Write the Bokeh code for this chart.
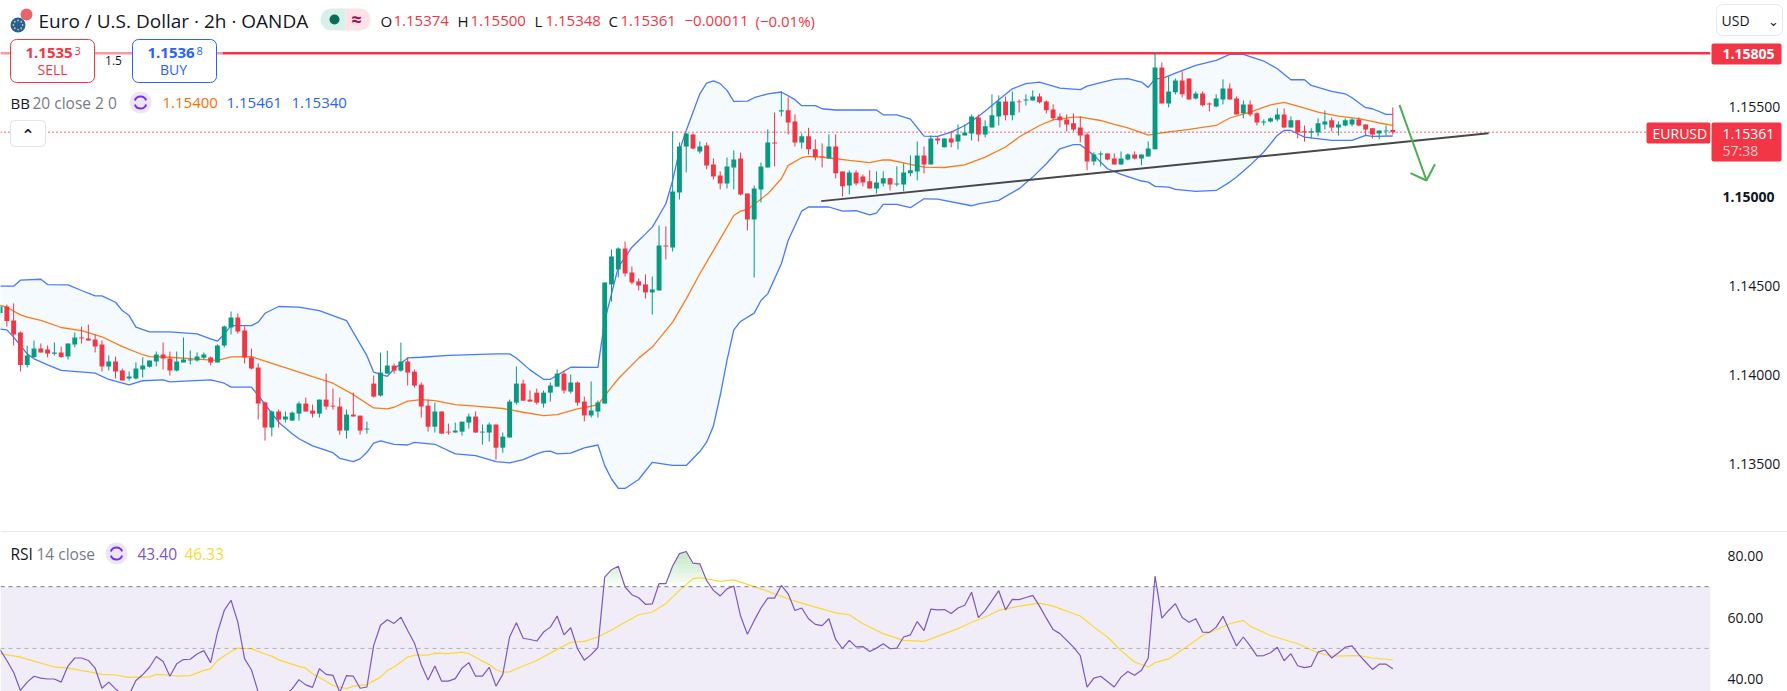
import numpy as np
from bokeh.embed import file_html
from bokeh.resources import INLINE
from bokeh.layouts import column
from bokeh.models import (BoxAnnotation, ColumnDataSource, FixedTicker, Label, LinearAxis,
                          NumeralTickFormatter, Range1d, Span)
from bokeh.plotting import figure

# ---- candles, in 1e-5 price points (2h EUR/USD) ----
opens = [
114345,114382,114304,114236,114053,114099,114146,114141,114116,114124,
114101,114169,114208,114202,114197,114169,114045,114073,114023,113978,
113978,114028,114043,114073,114112,114090,114023,114068,114079,114079,
114094,114096,114068,114163,114264,114320,114247,114096,114039,113843,
113702,113792,113747,113741,113780,113837,113797,113780,113859,113825,
113820,113685,113775,113769,113691,113949,113882,114005,114050,114022,
114073,114016,113943,113825,113707,113792,113679,113674,113679,113730,
113764,113674,113674,113719,113589,113646,113842,113949,113859,113898,
113837,113898,113932,114005,113904,113955,113848,113770,113792,113837,
114506,114590,114708,114573,114523,114506,114461,114472,114725,114714,
115023,115281,115349,115253,115287,115180,115118,115073,115163,115214,
115017,114871,115040,115163,115304,115478,115484,115422,115304,115338,
115265,115225,115214,115281,115141,115062,115135,115113,115085,115045,
115073,115102,115068,115068,115130,115141,115231,115180,115326,115276,
115326,115309,115343,115354,115444,115349,115388,115450,115534,115456,
115534,115540,115540,115562,115534,115489,115450,115433,115411,115388,
115349,115197,115236,115242,115214,115180,115208,115236,115214,115225,
115265,115725,115523,115585,115652,115663,115551,115579,115523,115506,
115545,115607,115551,115467,115517,115467,115416,115422,115433,115461,
115388,115428,115366,115360,115360,115405,115428,115388,115399,115405,
115433,115405,115383,115354,115366,115374]
closes = [
114382,114300,114225,114053,114107,114146,114124,114118,114124,114099,
114174,114208,114202,114191,114157,114045,114073,114017,113966,113989,
114034,114051,114079,114112,114090,114023,114073,114084,114084,114101,
114112,114068,114163,114270,114320,114242,114096,114034,113837,113702,
113792,113747,113764,113786,113837,113792,113780,113859,113820,113820,
113685,113775,113764,113685,113696,113876,114011,114050,114022,114073,
114011,113938,113820,113707,113792,113668,113674,113685,113735,113764,
113674,113679,113719,113589,113651,113848,113949,113853,113848,113842,
113898,113938,114005,113910,113955,113842,113770,113798,113843,114517,
114663,114708,114568,114517,114500,114461,114478,114725,114719,115028,
115281,115354,115270,115281,115174,115113,115073,115169,115208,115011,
114871,115045,115169,115304,115298,115484,115416,115304,115338,115265,
115220,115220,115281,115130,115057,115135,115073,115079,115045,115079,
115102,115068,115073,115135,115147,115231,115180,115326,115315,115326,
115304,115349,115360,115450,115349,115394,115456,115534,115456,115534,
115529,115545,115562,115529,115484,115439,115428,115405,115377,115343,
115197,115236,115242,115208,115180,115214,115236,115214,115236,115270,
115725,115523,115590,115652,115574,115545,115579,115512,115517,115551,
115607,115545,115461,115517,115461,115416,115422,115439,115461,115388,
115428,115360,115360,115366,115411,115422,115388,115405,115428,115433,
115399,115377,115349,115371,115371,115361]
highs = [
114392,114393,114399,114242,114161,114191,114174,114163,114180,114157,
114174,114236,114270,114281,114223,114191,114107,114101,114034,114017,
114068,114096,114079,114129,114180,114129,114129,114208,114135,114124,
114124,114101,114169,114275,114354,114343,114270,114146,114062,113848,
113798,113803,113792,113792,113848,113870,113831,113859,114005,113921,
113870,113803,113898,113769,113735,113994,114123,114134,114061,114179,
114095,114028,113955,113859,113842,113792,113724,113730,113735,113780,
113792,113719,113730,113719,113674,113859,114045,113971,113910,113921,
113910,113955,114028,114022,114000,113960,113876,113961,113854,114517,
114702,114714,114747,114607,114539,114562,114551,114837,114832,115366,
115304,115354,115354,115309,115304,115214,115141,115219,115259,115247,
115017,115062,115191,115377,115472,115590,115557,115461,115354,115386,
115321,115298,115349,115349,115141,115147,115147,115124,115147,115141,
115141,115102,115169,115186,115231,115309,115281,115343,115338,115326,
115366,115405,115405,115461,115461,115428,115574,115568,115562,115590,
115545,115574,115596,115579,115540,115517,115467,115461,115467,115450,
115360,115248,115253,115242,115242,115253,115242,115253,115236,115309,
115810,115753,115675,115663,115703,115663,115590,115590,115529,115574,
115658,115635,115562,115540,115540,115473,115433,115444,115495,115495,
115450,115428,115399,115383,115439,115484,115444,115422,115439,115439,
115444,115405,115383,115371,115399,115500]
lows = [
114339,114270,114163,114017,114039,114092,114124,114096,114107,114094,
114084,114152,114174,114191,114124,114017,114023,113978,113966,113966,
113972,113983,114039,114045,114028,113994,114017,114068,114056,114073,
114084,114051,114068,114152,114225,114230,114062,114028,113747,113629,
113652,113702,113730,113741,113741,113792,113758,113758,113803,113803,
113662,113640,113764,113662,113668,113870,113876,114005,114005,114016,
113938,113927,113758,113679,113674,113668,113662,113674,113657,113696,
113674,113606,113623,113522,113561,113646,113831,113853,113848,113831,
113814,113848,113932,113893,113893,113825,113736,113758,113758,113837,
114410,114545,114551,114506,114472,114427,114337,114472,114646,114691,
114983,115135,115264,115242,115152,115096,115040,115045,115040,115006,
114809,114545,114966,115163,115169,115450,115349,115281,115270,115236,
115203,115163,115214,115102,115000,115012,115062,115057,115045,115017,
115057,115034,115057,115029,115113,115090,115130,115180,115293,115276,
115276,115265,115343,115315,115309,115332,115388,115399,115428,115428,
115472,115512,115540,115523,115467,115428,115388,115366,115366,115304,
115147,115175,115169,115203,115180,115180,115203,115208,115175,115225,
115265,115523,115501,115574,115557,115545,115545,115506,115478,115501,
115517,115545,115461,115439,115450,115399,115399,115416,115422,115383,
115388,115326,115309,115326,115338,115377,115366,115343,115394,115394,
115394,115343,115326,115321,115343,115348]

# ---- Bollinger bands, read at the line's visible vertices ----
upper_i = [0,2,3,6,7,10,12,14,15,17,18,19,20,22,25,29,31,32,33,34,37,38,39,41,44,47,51,52,54,55,57,58,60,62,66,73,75,76,78,80,81,84,88,
           89,90,91,92,93,94,95,96,97,98,99,100,101,103,104,105,106,107,108,110,111,113,115,117,118,120,121,123,129,130,132,134,136,138,140,142,144,145,147,149,151,153,156,159,160,162,
           164,166,168,169,170,171,173,176,179,181,183,186,188,190,192,193,196,198,199,201,202,204,205]
upper_v = [114496,114496,114530,114535,114505,114503,114472,114442,114442,114406,114359,114331,114266,114239,114239,114228,114200,114187,114228,114275,114275,114294,114344,114382,114378,114359,114303,114237,114106,114013,113990,114031,114093,114097,114108,114116,114116,114093,114026,113973,113973,114041,114040,
           114303,114453,114603,114659,114715,114753,114790,114828,114893,114959,115090,115259,115371,115577,115637,115649,115634,115596,115534,115536,115555,115577,115587,115544,115510,115510,115493,115486,115486,115459,115459,115435,115339,115338,115362,115399,115450,115480,115544,115605,115634,115643,115609,115600,115620,115640,
           115658,115662,115643,115613,115662,115662,115693,115737,115765,115798,115798,115761,115718,115656,115656,115624,115590,115577,115555,115499,115493,115461,115461]
lower_i = [0,1,2,3,4,5,7,9,14,16,19,21,24,25,31,33,34,37,38,41,43,44,46,49,50,52,53,54,55,56,58,60,61,64,67,70,73,75,77,79,80,81,82,84,86,88,89,90,91,92,94,96,99,101,103,104,105,106,107,108,109,111,112,113,115,116,118,119,122,124,126,128,129,130,132,134,136,138,143,144,147,150,152,154,156,158,159,161,163,165,168,169,170,172,173,176,179,181,182,184,186,188,189,190,192,196,199,201,202,205]
lower_v = [114255,114251,114210,114163,114116,114088,114054,114023,114008,113972,113942,113965,113970,113959,113970,113951,113929,113929,113882,113732,113667,113639,113599,113561,113529,113511,113526,113563,113614,113627,113608,113604,113619,113608,113554,113544,113511,113503,113522,113554,113567,113569,113554,113558,113588,113604,113488,113413,113361,113360,113410,113506,113489,113489,113567,113620,113710,113882,114079,114251,114298,114345,114416,114453,114622,114753,114918,114941,114941,114918,114920,114897,114907,114956,114956,114937,114987,114985,114948,114959,114978,115044,115109,115184,115268,115291,115291,115231,115156,115124,115087,115081,115057,115053,115040,115029,115034,115081,115109,115175,115250,115343,115371,115371,115334,115315,115315,115343,115338,115340]
middle_i = [0,1,3,4,6,9,12,15,18,21,22,25,30,32,34,37,39,43,46,49,52,55,57,58,60,62,64,67,70,74,77,80,82,85,88,90,91,94,96,99,101,103,104,106,108,109,110,113,115,116,118,119,121,123,125,128,130,131,134,136,139,142,145,148,150,153,155,158,159,162,164,166,169,171,175,179,181,184,187,189,191,194,197,200,203,205]
middle_v = [114388,114378,114335,114322,114304,114264,114247,114212,114157,114111,114101,114097,114084,114079,114099,114101,114075,114026,113988,113951,113887,113812,113807,113816,113850,113859,113853,113831,113822,113809,113788,113769,113775,113807,113830,113929,113976,114092,114154,114294,114425,114566,114631,114762,114893,114918,114927,115015,115100,115175,115218,115225,115221,115212,115203,115190,115206,115205,115180,115165,115163,115178,115221,115278,115334,115399,115431,115446,115446,115427,115405,115386,115345,115358,115377,115399,115441,115474,115515,115529,115508,115474,115452,115437,115413,115400]

# ---- RSI ----
rsi = [
49.6,46.1,42.3,36.4,39.1,41.0,40.4,40.1,40.1,39.1,44.3,46.9,46.9,46.1,43.6,37.1,39.1,36.9,35.0,35.0,
39.6,41.5,43.9,47.4,45.8,41.0,45.0,46.4,46.5,48.2,49.3,45.4,55.1,62.3,65.6,58.5,46.6,43.1,35.9,33.0,
34.0,34.0,35.0,36.9,39.9,38.2,37.4,43.4,41.6,41.3,35.8,41.2,41.0,37.1,37.5,51.0,57.5,59.3,58.1,60.1,
55.8,51.7,44.7,39.8,44.3,39.4,39.4,40.2,43.6,45.4,41.0,41.0,43.9,37.8,41.6,53.7,58.3,53.3,52.9,52.4,
55.3,56.9,60.5,54.4,56.7,49.9,46.2,48.0,50.3,73.1,75.5,76.6,69.9,67.4,66.4,64.3,64.4,71.0,71.0,76.7,
80.7,81.4,77.6,77.4,72.0,68.8,67.0,69.3,70.2,60.5,54.6,59.0,63.1,66.3,66.3,70.4,67.7,62.3,63.1,59.6,
57.8,57.4,59.6,52.9,49.9,52.6,50.5,50.6,49.0,50.1,51.5,49.9,50.1,53.7,54.4,58.7,55.8,62.7,62.5,62.6,
61.3,63.1,64.0,68.2,60.0,62.3,65.5,68.7,62.5,65.9,65.8,66.5,67.2,63.7,59.8,56.1,54.8,52.6,50.4,47.7,
37.5,40.4,41.0,39.3,37.5,40.7,42.5,41.3,42.9,46.9,73.4,59.8,62.3,64.5,60.0,58.5,59.6,55.3,55.2,56.9,
60.4,55.6,50.8,53.7,50.8,47.6,47.7,48.6,50.4,46.0,48.3,44.4,43.8,44.2,48.8,49.5,46.9,48.6,50.4,50.8,
48.0,45.6,43.2,44.9,44.9,43.4]
rsi_ma_i = [0,3,5,8,10,12,13,15,17,19,22,23,25,26,28,30,31,32,34,35,37,39,40,41,44,45,46,48,49,51,52,54,56,57,58,60,61,63,64,66,68,69,71,72,73,74,75,76,79,82,84,86,88,90,92,94,96,98,100,102,103,106,108,112,117,120,123,125,127,130,133,136,141,143,145,147,150,153,155,159,161,163,165,167,169,170,172,175,177,181,183,184,187,191,194,196,200,202,205]
rsi_ma_v = [48.3,47.2,45.9,44.0,43.6,42.8,42.5,41.6,41.4,40.6,40.8,41.6,41.4,41.0,41.2,42.9,43.4,46.1,49.0,50.1,49.9,48.2,47.5,46.3,44.2,43.6,41.8,39.4,38.0,37.0,37.8,38.3,40.7,42.9,44.0,47.2,47.8,47.8,48.5,48.3,48.8,48.3,45.9,44.8,43.1,42.3,42.4,43.4,46.1,49.7,52.0,52.3,53.7,56.0,58.5,60.9,61.8,64.5,68.8,72.6,72.9,71.7,72.2,69.3,65.3,63.4,61.5,60.9,58.0,54.8,52.6,52.3,56.4,58.5,60.2,62.3,63.7,64.7,63.7,60.5,56.9,53.7,49.3,45.6,44.0,45.4,46.6,51.0,54.2,58.0,59.1,57.2,54.2,51.5,48.6,47.5,47.7,46.9,46.33]

# ---- horizontal levels and drawings ----
resistance = 1.15805
last_price = 1.15361
trend_i = [120.87, 219.1]
trend_v = [1.14974, 1.15356]
arrow_i = [205.98, 209.96]
arrow_v = [1.15515, 1.15090]
head_i = [207.6, 209.96, 211.2]
head_v = [1.15131, 1.15090, 1.15181]
price_ticks = [1.135, 1.14, 1.145, 1.155]
rsi_ticks = [40, 60, 80]

GREEN, RED, BLUE, ORANGE = "#089981", "#f23645", "#2962ff", "#ff6d00"
PURPLE, YELLOW, INK, GREY = "#7e57c2", "#fdd835", "#131722", "#787b86"
FONT = "Open Sans"
PANE_W, H_MAIN, H_RSI = 1710, 532, 159

def pts(a):
    return np.array(a, dtype=float) / 1e5

xr = Range1d(0.0683, 251.76)
p = figure(width=1787, height=H_MAIN, x_range=xr, y_range=Range1d(1.131124, 1.161011),
           output_backend="svg", toolbar_location=None, min_border_left=0, min_border_right=77,
           min_border_top=0, min_border_bottom=0, outline_line_color=None, x_axis_location=None,
           y_axis_location=None, background_fill_color="white", border_fill_color="white")
p.grid.visible = False
p.extra_x_ranges["ui"] = Range1d(0, PANE_W)
p.extra_y_ranges["ui"] = Range1d(H_MAIN, 0)

ax = LinearAxis(ticker=FixedTicker(ticks=price_ticks), formatter=NumeralTickFormatter(format="0.00000"),
                axis_line_color=None, major_tick_line_color=None, minor_tick_line_color=None,
                major_label_text_font=FONT, major_label_text_font_size="14px",
                major_label_text_color=INK, major_label_standoff=12)
p.add_layout(ax, "right")

p.patch(np.r_[upper_i, lower_i[::-1]], np.r_[pts(upper_v), pts(lower_v)[::-1]],
        fill_color="#2196f3", fill_alpha=0.05, line_color=None)
p.line(upper_i, pts(upper_v), line_color=BLUE, line_width=1.3, line_alpha=0.85)
p.line(lower_i, pts(lower_v), line_color=BLUE, line_width=1.3, line_alpha=0.85)
p.line(middle_i, pts(middle_v), line_color=ORANGE, line_width=1.3, line_alpha=0.9)

# level lines
p.line([0, 222], [resistance] * 2, x_range_name="ui", line_color="#f99aa3", line_width=2.6)
p.line([222, PANE_W], [resistance] * 2, x_range_name="ui", line_color=RED, line_width=2.6)
p.line([0, 1645], [last_price] * 2, x_range_name="ui", line_color=RED, line_width=1.3, line_dash="1 3")

# candles
idx = np.arange(len(opens))
o, h, l, c = pts(opens), pts(highs), pts(lows), pts(closes)
col = [GREEN if c[i] >= o[i] else RED for i in idx]
src = ColumnDataSource(dict(i=idx, top=np.maximum(o, c), bot=np.minimum(o, c), h=h, l=l, col=col))
p.segment("i", "h", "i", "l", source=src, line_color="col", line_width=1)
p.vbar("i", 0.72, "top", "bot", source=src, fill_color="col", line_color="col", line_width=0)

# hand-drawn trend line and arrow
p.line(trend_i, trend_v, line_color="#484848", line_width=2)
p.line(arrow_i, arrow_v, line_color="#4caf50", line_width=2)
p.line(head_i, head_v, line_color="#4caf50", line_width=2)

def box(fig, H, l_, t_, r_, b_, fill=None, line=None, rad=0, lw=1):
    fig.add_layout(BoxAnnotation(left=l_, right=r_, top=H - t_, bottom=H - b_,
                                 left_units="screen", right_units="screen",
                                 top_units="screen", bottom_units="screen",
                                 fill_color=fill, fill_alpha=1 if fill else 0,
                                 line_color=line, line_alpha=1 if line else 0, line_width=lw,
                                 border_radius=rad, editable=False))

def txt(fig, H, x, y, s, color=INK, size=15, style="normal", font=FONT, align="left"):
    fig.add_layout(Label(x=x, y=H - y, x_units="screen", y_units="screen", text=s, text_color=color,
                         text_font=font, text_font_size=f"{size}px", text_font_style=style,
                         text_baseline="middle", text_align=align))

def refresh(fig, H, cx, cy):
    r = 11
    box(fig, H, cx - r, cy - r, cx + r, cy + r, fill="#ece7f8", rad=r)
    a1 = fig.arc([cx], [cy], radius=6, radius_units="screen", start_angle=0.35, end_angle=2.8,
                 x_range_name="ui", y_range_name="ui", line_color="#7a2cf5", line_width=2)
    a2 = fig.arc([cx], [cy], radius=6, radius_units="screen", start_angle=3.5, end_angle=5.95,
                 x_range_name="ui", y_range_name="ui", line_color="#7a2cf5", line_width=2)
    a1.level = a2.level = "overlay"

# header
box(p, H_MAIN, 10, 17, 25, 32, fill="#1f5fa8", rad=8)
box(p, H_MAIN, 20, 8, 32, 20, fill="#e9636b", rad=6)
th = np.linspace(0, 2 * np.pi, 9)[:-1]
ring = p.scatter(17.5 + 4.6 * np.cos(th), 24.5 + 4.6 * np.sin(th), size=1.8, x_range_name="ui", y_range_name="ui",
                 fill_color="#f2c63a", line_color=None)
ring.level = "overlay"
txt(p, H_MAIN, 38, 20, "Euro / U.S. Dollar · 2h · OANDA", size=19)
box(p, H_MAIN, 320, 8, 345, 30, fill="#d9f0ea", rad=(11, 0, 0, 11))
box(p, H_MAIN, 345, 8, 370, 30, fill="#fde0e8", rad=(0, 11, 11, 0))
box(p, H_MAIN, 329, 14, 339, 24, fill="#0c6b58", rad=5)
txt(p, H_MAIN, 356, 18, "≈", color="#a3134c", size=18, style="bold", align="center")
for lab, lx, val, vx in [("O", 380, "1.15374", 393), ("H", 457, "1.15500", 470),
                         ("L", 534, "1.15348", 545), ("C", 608, "1.15361", 620)]:
    txt(p, H_MAIN, lx, 20, lab)
    txt(p, H_MAIN, vx, 20, val, color=RED)
txt(p, H_MAIN, 684, 20, "−0.00011", color=RED)
txt(p, H_MAIN, 755, 20, "(−0.01%)", color=RED)

# trade buttons
box(p, H_MAIN, 10, 39, 94, 82, fill="white", line=RED, rad=6)
box(p, H_MAIN, 132, 39, 216, 82, fill="white", line=BLUE, rad=6)
txt(p, H_MAIN, 25, 52, "1.1535", color=RED, style="bold", size=15)
txt(p, H_MAIN, 74, 50, "3", color=RED, size=11)
txt(p, H_MAIN, 52, 69, "SELL", color=RED, size=14, align="center")
txt(p, H_MAIN, 147, 52, "1.1536", color=BLUE, style="bold", size=15)
txt(p, H_MAIN, 196, 50, "8", color=BLUE, size=11)
txt(p, H_MAIN, 173, 69, "BUY", color=BLUE, size=14, align="center")
txt(p, H_MAIN, 113, 60, "1.5", size=12, align="center")

# indicator legend
txt(p, H_MAIN, 10, 102, "BB")
txt(p, H_MAIN, 32, 102, "20 close 2 0", color=GREY, size=15.5)
refresh(p, H_MAIN, 140, 102)
txt(p, H_MAIN, 162, 102, "1.15400", color=ORANGE)
txt(p, H_MAIN, 226, 102, "1.15461", color=BLUE)
txt(p, H_MAIN, 291, 102, "1.15340", color=BLUE)
box(p, H_MAIN, 10, 120, 45, 146, fill="white", line="#e0e3eb", rad=4)
txt(p, H_MAIN, 27.5, 135, "⌃", size=16, font="DejaVu Sans", style="bold", align="center")
box(p, H_MAIN, 1646, 122, 1710, 143, fill=RED, rad=2)
txt(p, H_MAIN, 1652, 132.5, "EURUSD", color="white", size=14)
box(p, H_MAIN, 0, 530.5, 1710, 532, fill="#e6e8ee")

# ---- right scale furniture, in a strip laid over the scale gutter ----
s = figure(width=77, height=H_MAIN, x_range=Range1d(0, 77), y_range=Range1d(0, H_MAIN),
           output_backend="svg", toolbar_location=None, min_border=0, outline_line_color=None,
           x_axis_location=None, y_axis_location=None, background_fill_alpha=0, border_fill_alpha=0)
s.grid.visible = False
box(s, H_MAIN, 6, 4, 72, 35, fill="white", line="#e6e8ee", rad=6)
txt(s, H_MAIN, 11, 20, "USD", size=14)
txt(s, H_MAIN, 63, 21, "⌄", size=13, font="DejaVu Sans", align="center")
box(s, H_MAIN, 1, 43, 71, 64, fill=RED, rad=2)
txt(s, H_MAIN, 12, 53.5, "1.15805", color="white", style="bold", size=14)
box(s, H_MAIN, 1, 122, 71, 161, fill=RED, rad=2)
txt(s, H_MAIN, 12, 133, "1.15361", color="white", size=14)
txt(s, H_MAIN, 12, 150, "57:38", color="#fbc4c9", size=14)
txt(s, H_MAIN, 12, 196, "1.15000", style="bold", size=14)
box(s, H_MAIN, 0, 530.5, 77, 532, fill="#e6e8ee")

# ---- RSI pane ----
q = figure(width=1787, height=H_RSI, x_range=xr, y_range=Range1d(36.05, 87.55),
           output_backend="svg", toolbar_location=None, min_border_left=0, min_border_right=77,
           min_border_top=0, min_border_bottom=0, outline_line_color=None, x_axis_location=None,
           y_axis_location=None, background_fill_color="white", border_fill_color="white")
q.grid.visible = False
q.extra_x_ranges["ui"] = Range1d(0, PANE_W)
q.extra_y_ranges["ui"] = Range1d(H_RSI, 0)
q.add_layout(LinearAxis(ticker=FixedTicker(ticks=rsi_ticks), formatter=NumeralTickFormatter(format="0.00"),
                        axis_line_color=None, major_tick_line_color=None, minor_tick_line_color=None,
                        major_label_text_font=FONT, major_label_text_font_size="14px",
                        major_label_text_color=INK, major_label_standoff=11), "right")
q.add_layout(BoxAnnotation(bottom=30, top=70, fill_color=PURPLE, fill_alpha=0.115, line_alpha=0, level="underlay"))
q.add_layout(Span(location=70, dimension="width", line_color=GREY, line_dash="4 4", line_width=1))
q.add_layout(Span(location=50, dimension="width", line_color=GREY, line_alpha=0.55, line_dash="4 4", line_width=1))

fine_x = np.linspace(0, 205, 1231)
fine_y = np.interp(fine_x, idx, rsi)
for lvl in np.arange(70, 82, 1.5):
    q.varea(fine_x, np.full_like(fine_x, lvl), np.maximum(fine_y, lvl), fill_color="#4caf50", fill_alpha=0.045)

q.line(rsi_ma_i, rsi_ma_v, line_color=YELLOW, line_width=1.2)
q.line(idx, rsi, line_color=PURPLE, line_width=1.2)

txt(q, H_RSI, 10, 21, "RSI", size=15.5)
txt(q, H_RSI, 36, 21, "14 close", color=GREY, size=15.5)
refresh(q, H_RSI, 116, 21)
txt(q, H_RSI, 137, 21, "43.40", color=PURPLE, size=15.5)
txt(q, H_RSI, 184, 21, "46.33", color=YELLOW, size=15.5)

page = column(p, q, spacing=0, styles={"position": "absolute", "left": "0px", "top": "0px"})
strip = column(s, spacing=0, styles={"position": "absolute", "left": "1710px", "top": "0px", "z-index": "5"})
open("out.html", "w").write(file_html([page, strip], INLINE))
